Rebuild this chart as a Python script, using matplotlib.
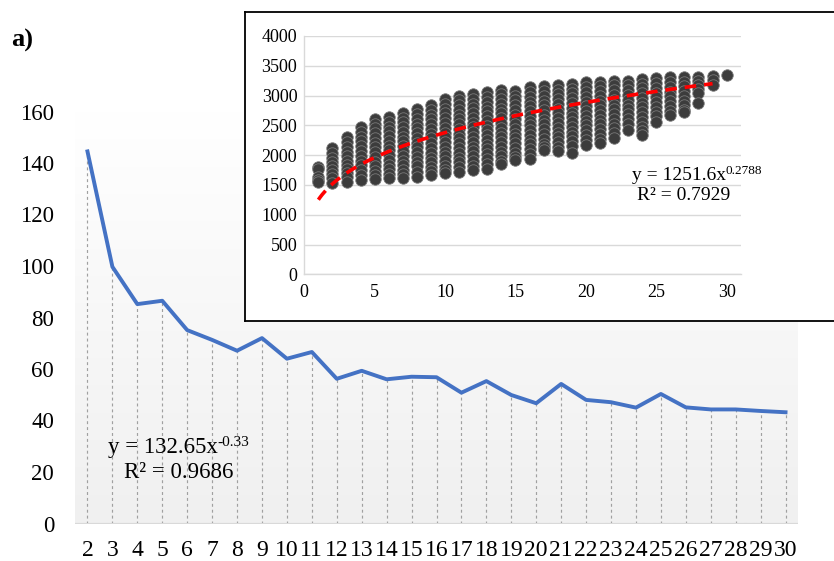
import numpy as np
import matplotlib
matplotlib.use("Agg")
import matplotlib.pyplot as plt
from matplotlib.colors import LinearSegmentedColormap

plt.rcParams['font.family'] = ['Liberation Serif', 'DejaVu Serif']

# ---- main chart data ----
categories = [str(i) for i in range(2, 31)]
x_main = list(range(2, 31))
values = [144.5, 99.7, 85.2, 86.5, 75.1, 71.3, 67.1, 72.0, 64.0, 66.6,
          56.2, 59.3, 56.0, 57.0, 56.8, 50.8, 55.3, 49.9, 46.7, 54.2,
          48.0, 47.1, 45.0, 50.3, 45.1, 44.3, 44.3, 43.7, 43.2]
y_ticks_main = [0, 20, 40, 60, 80, 100, 120, 140, 160]

# ---- inset scatter data (one list per x value 1..30) ----
inset_x = list(range(1, 31))
inset_cols = [
    [1800, 1760, 1630, 1590, 1550],
    [2115, 2040, 1960, 1890, 1820, 1750, 1680, 1610, 1540],
    [2300, 2220, 2140, 2060, 1990, 1910, 1840, 1770, 1700, 1630, 1555],
    [2470, 2390, 2310, 2230, 2150, 2070, 1990, 1910, 1830, 1750, 1670, 1585],
    [2610, 2530, 2450, 2370, 2290, 2210, 2130, 2050, 1970, 1890, 1810, 1730, 1660, 1595],
    [2645, 2560, 2480, 2400, 2320, 2240, 2160, 2080, 2000, 1920, 1840, 1760, 1690, 1610],
    [2710, 2630, 2550, 2470, 2390, 2310, 2230, 2150, 2070, 1990, 1910, 1830, 1750, 1680, 1620],
    [2775, 2690, 2610, 2530, 2450, 2370, 2290, 2210, 2130, 2050, 1970, 1890, 1810, 1720, 1640],
    [2840, 2760, 2680, 2600, 2520, 2440, 2360, 2280, 2200, 2120, 2040, 1960, 1880, 1800, 1730, 1670],
    [2940, 2860, 2780, 2700, 2620, 2540, 2460, 2380, 2300, 2220, 2140, 2060, 1980, 1900, 1820, 1750, 1695],
    [3000, 2920, 2840, 2760, 2680, 2600, 2520, 2440, 2360, 2280, 2200, 2120, 2040, 1960, 1880, 1800, 1720],
    [3025, 2945, 2865, 2785, 2705, 2625, 2545, 2465, 2385, 2305, 2225, 2145, 2065, 1985, 1905, 1825, 1750],
    [3055, 2975, 2895, 2815, 2735, 2655, 2575, 2495, 2415, 2335, 2255, 2175, 2095, 2015, 1935, 1855, 1760],
    [3100, 3020, 2940, 2860, 2780, 2700, 2620, 2540, 2460, 2380, 2300, 2220, 2140, 2060, 1980, 1910, 1850],
    [3080, 3000, 2920, 2840, 2760, 2680, 2600, 2520, 2440, 2360, 2280, 2200, 2120, 2040, 1970, 1920],
    [3140, 3060, 2980, 2900, 2820, 2740, 2660, 2580, 2500, 2420, 2340, 2260, 2180, 2100, 2020, 1930],
    [3155, 3075, 2995, 2915, 2835, 2755, 2675, 2595, 2515, 2435, 2355, 2275, 2195, 2130, 2090],
    [3180, 3100, 3020, 2940, 2860, 2780, 2700, 2620, 2540, 2460, 2380, 2300, 2220, 2140, 2075],
    [3195, 3115, 3035, 2955, 2875, 2795, 2715, 2635, 2555, 2475, 2395, 2315, 2235, 2155, 2030],
    [3220, 3140, 3060, 2980, 2900, 2820, 2740, 2660, 2580, 2500, 2420, 2340, 2260, 2170],
    [3235, 3155, 3075, 2995, 2915, 2835, 2755, 2675, 2595, 2515, 2435, 2355, 2275, 2200],
    [3250, 3170, 3090, 3010, 2930, 2850, 2770, 2690, 2610, 2530, 2450, 2370, 2280],
    [3250, 3170, 3090, 3010, 2930, 2850, 2770, 2690, 2610, 2530, 2430],
    [3280, 3200, 3120, 3040, 2960, 2880, 2800, 2720, 2640, 2560, 2480, 2400, 2340],
    [3290, 3210, 3130, 3050, 2970, 2890, 2810, 2730, 2650, 2560],
    [3305, 3225, 3145, 3065, 2985, 2905, 2825, 2745, 2675],
    [3315, 3235, 3155, 3075, 2995, 2915, 2835, 2760, 2730],
    [3320, 3250, 3180, 3110, 3040, 2880],
    [3330, 3260, 3180],
    [3345],
]
inset_y_ticks = [0, 500, 1000, 1500, 2000, 2500, 3000, 3500, 4000]
inset_x_ticks = [0, 5, 10, 15, 20, 25, 30]
trend_a, trend_b = 1251.6, 0.2788
trend_range = (1, 29)

W, H = 834, 561
fig = plt.figure(figsize=(W / 100, H / 100), dpi=100)
fig.patch.set_facecolor('white')

def fx(px): return px / W
def fy(py): return 1 - py / H

# ---- main axes ----
ax = fig.add_axes([fx(75), fy(523.5), fx(798) - fx(75), fy(111.5) - fy(523.5)])
ax.set_xlim(1.5, 30.5)
ax.set_ylim(0, 160)
grad = np.linspace(0.0, 1.0, 256).reshape(-1, 1)
cmap = LinearSegmentedColormap.from_list('g', ['#f0f0f0', '#ffffff'])
ax.imshow(grad, extent=[1.5, 30.5, 0, 160], aspect='auto', cmap=cmap,
          origin='lower', zorder=0)
ax.vlines(x_main, 0, values, colors='#a0a0a0', linestyles=(0, (2.5, 2.5)),
          linewidth=0.85, zorder=1)
ax.plot(x_main, values, color='#4472C4', linewidth=2.8, zorder=3,
        solid_joinstyle='round')
ax.axhline(0, color='#d9d9d9', linewidth=1.6, zorder=2)
for s in ax.spines.values():
    s.set_visible(False)
ax.set_xticks(x_main)
ax.set_xticklabels(categories)
ax.set_yticks(y_ticks_main)
ax.tick_params(axis='both', length=0, colors='#000000')
ax.tick_params(axis='x', pad=12, labelsize=17)
ax.tick_params(axis='y', pad=15, labelsize=16.5)

fig.text(fx(11), fy(40), 'a)', fontsize=19, fontweight='bold', va='center', ha='left')

# ---- inset frame ----
frame = fig.add_axes([fx(245), fy(321), fx(840) - fx(245), fy(12) - fy(321)])
frame.set_xticks([]); frame.set_yticks([])
frame.set_facecolor('white')
for s in frame.spines.values():
    s.set_color('black'); s.set_linewidth(1.3)

# ---- inset axes ----
ia = fig.add_axes([fx(304.3), fy(274.3), fx(740.7) - fx(304.3), fy(36) - fy(274.3)])
ia.set_facecolor('none')
ia.set_xlim(0, 31)
ia.set_ylim(0, 4000)
ia.set_yticks(inset_y_ticks)
ia.set_xticks(inset_x_ticks)
ia.grid(axis='y', color='#d9d9d9', linewidth=1.0)
ia.set_axisbelow(True)
for k in ['top', 'right']:
    ia.spines[k].set_visible(False)
for k in ['left', 'bottom']:
    ia.spines[k].set_color('#d9d9d9'); ia.spines[k].set_linewidth(1.0)
ia.tick_params(axis='both', length=0, labelsize=13)
ia.tick_params(axis='x', pad=7)
ia.tick_params(axis='y', pad=5)
for xv, col in zip(inset_x, inset_cols):
    ia.scatter([xv] * len(col), col, s=68, facecolor='#3c3c3c',
               edgecolor='#787878', linewidth=0.6, zorder=3)
tx = np.linspace(trend_range[0], trend_range[1], 200)
ia.plot(tx, trend_a * tx ** trend_b, color='#ff0000', linewidth=2.6,
        linestyle=(0, (3.2, 2.2)), zorder=4)

# ---- equations with superscripts ----
renderer = fig.canvas.get_renderer()

def eq(x_px, y_px, base, sup, size, sup_size, rise):
    t = fig.text(fx(x_px), fy(y_px), base, fontsize=size, va='center', ha='left')
    bb = t.get_window_extent(renderer=renderer)
    fig.text(bb.x1 / W, fy(y_px - rise), sup, fontsize=sup_size, va='center', ha='left')

eq(108, 447, 'y = 132.65x', '-0.33', 16.5, 11, 5)
fig.text(fx(124), fy(473), 'R² = 0.9686', fontsize=16.5, va='center', ha='left')
eq(632, 176, 'y = 1251.6x', '0.2788', 14, 9.5, 5)
fig.text(fx(684), fy(195), 'R² = 0.7929', fontsize=14, va='center', ha='center')

fig.savefig('out.png', dpi=100)
